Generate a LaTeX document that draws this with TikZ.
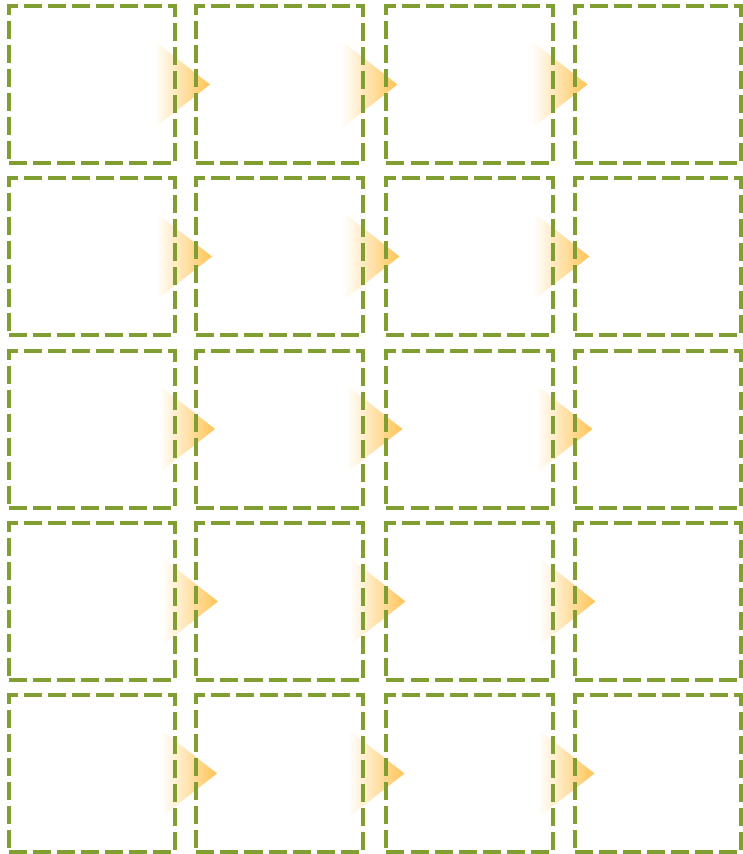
\documentclass[tikz,border=0pt]{standalone}
\usetikzlibrary{positioning,calc,backgrounds,fadings}
\definecolor{GridGreen}{RGB}{128,158,50}
\definecolor{StepGold}{RGB}{255,196,84}

\begin{document}
\begin{tikzpicture}[x=0.03cm, y=-0.03cm,
  cell/.style={draw=GridGreen, line width=1.2mm, dash pattern=on 5.4mm off 1.8mm, minimum width=4.98cm, minimum height=4.71cm, inner sep=0pt, outer sep=0pt},
  pointer/.style={fill=StepGold, path fading=west}]
\useasboundingbox (0,0) rectangle (742,854);
% grid of dashed boxes
\foreach \r/\y in {1/84.5, 2/256.5, 3/429, 4/601.5, 5/773.5}
  \foreach \c/\x in {1/92, 2/279.5, 3/469.5, 4/658}
    \node[cell] (b-\r-\c) at (\x,\y) {};
% arrows between columns, kept behind the boxes
\begin{scope}[on background layer]
\foreach \r/\dx in {1/-3, 2/-1, 3/2, 4/5, 5/4}
  \foreach \c in {1,2,3}
    \fill[pointer] ($(b-\r-\c.east)+(-18+\dx,-44)$) -- ($(b-\r-\c.east)+(38+\dx,0)$) -- ($(b-\r-\c.east)+(-18+\dx,44)$) -- cycle;
\end{scope}
\end{tikzpicture}
\end{document}
